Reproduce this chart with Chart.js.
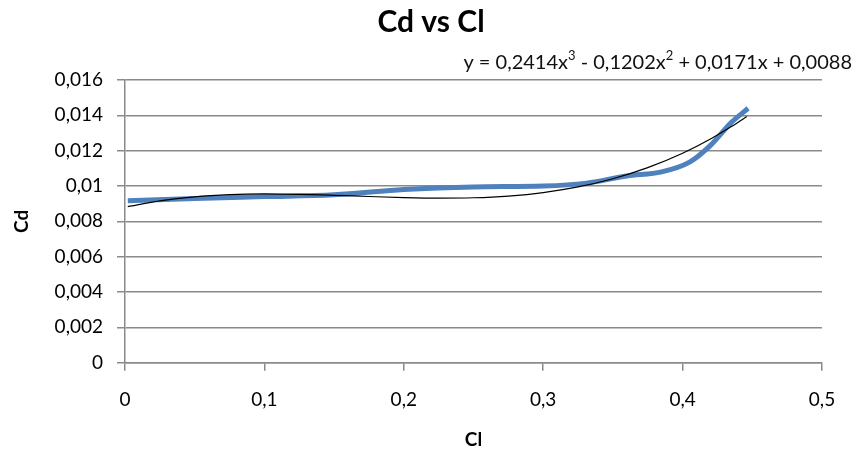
<!DOCTYPE html>
<html>
<head>
<meta charset="utf-8">
<title>Cd vs Cl</title>
<script src="https://cdn.jsdelivr.net/npm/chart.js@4.4.1/dist/chart.umd.min.js"></script>
<style>
  html, body { margin: 0; padding: 0; background: #ffffff; }
  #wrap { width: 859px; height: 457px; position: relative; }
</style>
</head>
<body>
<div id="wrap"><canvas id="chart" width="859" height="457"></canvas></div>
<script>
// Measured drag polar: lift coefficient (Cl) against drag coefficient (Cd)
const clValues = [0.002, 0.05, 0.1, 0.15, 0.2, 0.25, 0.3, 0.33, 0.36, 0.385, 0.405, 0.42, 0.435, 0.447];
const cdValues = [0.00917, 0.0093, 0.0094, 0.0095, 0.0098, 0.00995, 0.0100, 0.01015, 0.01057, 0.0108, 0.01135, 0.0123, 0.0136, 0.0144];

// Cubic trendline coefficients (x^3, x^2, x, constant) and the Cl stations it is drawn at
const trendCoeffs = [0.2414, -0.1202, 0.0171, 0.0088];
const trendCl = [0.002, 0.025, 0.05, 0.075, 0.1, 0.125, 0.15, 0.175, 0.2, 0.225, 0.25, 0.275, 0.3,
                 0.325, 0.35, 0.375, 0.4, 0.42, 0.435, 0.446];
// Equation text as [text, superscript] pieces
const trendLabelParts = [
  ['y = 0,2414x', false], ['3', true],
  [' - 0,1202x', false], ['2', true],
  [' + 0,0171x + 0,0088', false]
];

// Axis tick labels (decimal comma)
const cdTickLabels = ['0', '0,002', '0,004', '0,006', '0,008', '0,01', '0,012', '0,014', '0,016'];
const clTickLabels = ['0', '0,1', '0,2', '0,3', '0,4', '0,5'];

const chartTitle = 'Cd vs Cl';

const seriesPoints = clValues.map((x, i) => ({ x: x, y: cdValues[i] }));
const trendAt = x => trendCoeffs[0] * x * x * x + trendCoeffs[1] * x * x + trendCoeffs[2] * x + trendCoeffs[3];
const trendPoints = trendCl.map(x => ({ x: x, y: trendAt(x) }));

const GRID = '#8a8a8a';
const FONT = 'Lato, "Open Sans", sans-serif';

// Title and trendline equation drawn above the plot
const headerPlugin = {
  id: 'headerText',
  afterDraw(chart) {
    const ctx = chart.ctx;
    ctx.save();
    ctx.fillStyle = '#000000';
    ctx.textBaseline = 'middle';
    ctx.textAlign = 'center';
    ctx.font = 'bold 30px ' + FONT;
    ctx.fillText(chartTitle, 431, 22);

    // equation, right-aligned, with raised exponents
    const baseFont = '20px ' + FONT;
    const supFont = '13px ' + FONT;
    ctx.textAlign = 'left';
    let total = 0;
    trendLabelParts.forEach(([t, sup]) => {
      ctx.font = sup ? supFont : baseFont;
      total += ctx.measureText(t).width;
    });
    let x = 852 - total;
    ctx.fillStyle = '#111111';
    trendLabelParts.forEach(([t, sup]) => {
      ctx.font = sup ? supFont : baseFont;
      ctx.fillText(t, x, sup ? 56 : 63);
      x += ctx.measureText(t).width;
    });
    ctx.restore();
  }
};

new Chart(document.getElementById('chart'), {
  type: 'scatter',
  data: {
    datasets: [
      {
        label: 'Cd',
        data: seriesPoints,
        showLine: true,
        borderColor: '#4f81bd',
        borderWidth: 5,
        pointRadius: 0,
        cubicInterpolationMode: 'monotone',
        order: 2
      },
      {
        label: 'Trend',
        data: trendPoints,
        showLine: true,
        borderColor: '#000000',
        borderWidth: 1.2,
        pointRadius: 0,
        cubicInterpolationMode: 'monotone',
        order: 1
      }
    ]
  },
  options: {
    responsive: false,
    animation: false,
    layout: { padding: { left: 0, right: 37, top: 80, bottom: 0 } },
    plugins: {
      legend: { display: false },
      tooltip: { enabled: false },
      title: { display: false }
    },
    scales: {
      x: {
        type: 'linear',
        min: 0,
        max: 0.5,
        afterBuildTicks(scale) {
          scale.ticks = clTickLabels.map((_, i) => ({ value: i * 0.1 }));
        },
        afterFit(scale) { scale.height = 94.3; },
        grid: { display: true, drawOnChartArea: false, drawTicks: true, tickLength: 8, color: GRID, lineWidth: 1.5 },
        border: { display: true, color: GRID, width: 1.5 },
        ticks: {
          color: '#000000',
          font: { family: FONT, size: 19 },
          padding: 18,
          maxRotation: 0,
          callback: (v, i) => clTickLabels[i]
        },
        title: {
          display: true,
          text: 'Cl',
          color: '#000000',
          font: { family: FONT, size: 19, weight: 'bold', lineHeight: 1.2 },
          padding: { top: 0, bottom: 6 }
        }
      },
      y: {
        type: 'linear',
        min: 0,
        max: 0.016,
        afterBuildTicks(scale) {
          scale.ticks = cdTickLabels.map((_, i) => ({ value: i * 0.002 }));
        },
        afterFit(scale) { scale.width = 125; },
        grid: { display: true, drawTicks: true, tickLength: 8, color: GRID, lineWidth: 1.5 },
        border: { display: true, color: GRID, width: 1.5 },
        ticks: {
          color: '#000000',
          font: { family: FONT, size: 19 },
          padding: 14,
          callback: (v, i) => cdTickLabels[i]
        },
        title: {
          display: true,
          text: 'Cd',
          color: '#000000',
          font: { family: FONT, size: 19, weight: 'bold', lineHeight: 1.2 },
          padding: { top: 10, bottom: 0 }
        }
      }
    }
  },
  plugins: [headerPlugin]
});
</script>
</body>
</html>
